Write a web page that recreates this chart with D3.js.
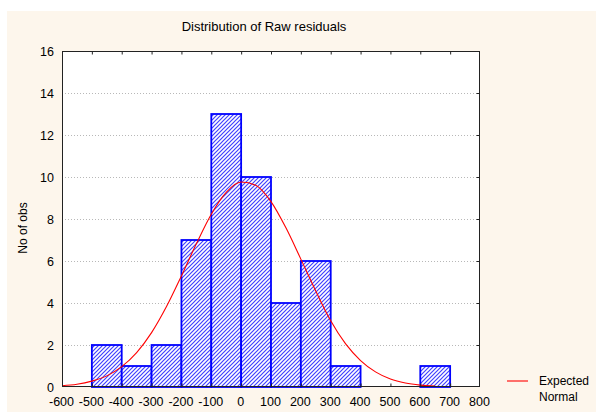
<!DOCTYPE html>
<html>
<head>
<meta charset="utf-8">
<script src="https://cdn.jsdelivr.net/npm/d3@7"></script>
<style>
  html, body { margin: 0; padding: 0; background: #fff; }
  svg { display: block; font-family: "Liberation Sans", Arial, sans-serif; }
</style>
</head>
<body>
<script>
  // bins are 100 wide, labelled by their left edge
  var binStarts = [-600, -500, -400, -300, -200, -100, 0, 100, 200, 300, 400, 500, 600];
  var counts    = [0, 2, 1, 2, 7, 13, 10, 4, 6, 1, 0, 0, 1];

  // expected normal
  var normalX = [-600, -550, -500, -450, -400, -350, -300, -250, -200, -150, -100, -50,
                 0, 50, 100, 150, 200, 250, 300, 350, 400, 450, 500, 550, 600, 650];
  var normalY = [0.06, 0.13, 0.28, 0.53, 0.97, 1.64, 2.59, 3.83, 5.29, 6.82, 8.23, 9.27,
                 9.76, 9.60, 8.83, 7.58, 6.09, 4.57, 3.15, 2.05, 1.26, 0.72, 0.38, 0.19, 0.09, 0.04];

  var xTicks = [-600, -500, -400, -300, -200, -100, 0, 100, 200, 300, 400, 500, 600, 700, 800];
  var yTicks = [0, 2, 4, 6, 8, 10, 12, 14, 16];

  var w = 596;
  var h = 413;
  var plot = { left: 62, top: 51, right: 480, bottom: 387 };

  var svg = d3.select('body')
    .append('svg')
    .attr('width', w)
    .attr('height', h);

  // cream page, with the thin white strip top and left
  svg.append('rect')
    .attr('x', 7).attr('y', 11)
    .attr('width', w - 7).attr('height', h - 12)
    .attr('fill', '#fdf6ec');

  var defs = svg.append('defs');
  var hatch = defs.append('pattern')
    .attr('id', 'hatch')
    .attr('patternUnits', 'userSpaceOnUse')
    .attr('width', 4).attr('height', 4);
  hatch.append('rect').attr('width', 4).attr('height', 4).attr('fill', '#fff');
  hatch.append('path')
    .attr('d', 'M-1,1 l2,-2 M0,4 l4,-4 M3,5 l2,-2')
    .attr('stroke', '#4040ff')
    .attr('stroke-width', 1.2);

  var x = d3.scaleLinear()
    .domain([-600, 800])
    .range([plot.left, plot.right]);

  var y = d3.scaleLinear()
    .domain([0, 16])
    .range([plot.bottom, plot.top]);

  svg.append('rect')
    .attr('x', plot.left).attr('y', plot.top)
    .attr('width', plot.right - plot.left)
    .attr('height', plot.bottom - plot.top)
    .attr('fill', '#fff');

  // dotted grid
  svg.append('g')
    .selectAll('line')
    .data(yTicks.filter(function(d) { return d > 0 && d < 16; }))
    .enter()
    .append('line')
    .attr('x1', plot.left).attr('x2', plot.right)
    .attr('y1', function(d) { return y(d) + 0.5; })
    .attr('y2', function(d) { return y(d) + 0.5; })
    .attr('stroke', '#b8b8b8')
    .attr('stroke-dasharray', '1,2');

  // bars
  svg.append('g')
    .selectAll('rect')
    .data(binStarts)
    .enter()
    .append('rect')
    .attr('x', function(d) { return x(d); })
    .attr('y', function(d, i) { return y(counts[i]); })
    .attr('width', function(d) { return x(d + 100) - x(d); })
    .attr('height', function(d, i) { return y(0) - y(counts[i]); })
    .attr('fill', 'url(#hatch)')
    .attr('stroke', '#0000ff')
    .attr('stroke-width', 1.8);

  // expected normal curve
  var line = d3.line()
    .x(function(d) { return x(d); })
    .y(function(d, i) { return y(normalY[i]); })
    .curve(d3.curveMonotoneX);

  svg.append('path')
    .datum(normalX)
    .attr('d', line)
    .attr('fill', 'none')
    .attr('stroke', '#ff0000')
    .attr('stroke-width', 1.1);

  // frame with inward ticks on every side
  svg.append('rect')
    .attr('x', plot.left + 0.5).attr('y', plot.top + 0.5)
    .attr('width', plot.right - plot.left - 1)
    .attr('height', plot.bottom - plot.top - 1)
    .attr('fill', 'none')
    .attr('stroke', '#222');

  var tickLen = 3;
  var innerX = xTicks.filter(function(d) { return d > -600 && d < 800; });
  var innerY = yTicks.filter(function(d) { return d > 0 && d < 16; });

  svg.append('g')
    .attr('transform', 'translate(0,' + (plot.top + 0.5) + ')')
    .call(d3.axisTop(x).tickValues(innerX).tickSize(-tickLen).tickFormat(''))
    .call(function(g) { g.select('.domain').remove(); })
    .selectAll('line').attr('stroke', '#222');

  svg.append('g')
    .attr('transform', 'translate(0,' + (plot.bottom - 0.5) + ')')
    .call(d3.axisBottom(x).tickValues(innerX).tickSize(-tickLen).tickFormat(''))
    .call(function(g) { g.select('.domain').remove(); })
    .selectAll('line').attr('stroke', '#222');

  svg.append('g')
    .attr('transform', 'translate(' + (plot.right - 0.5) + ',0)')
    .call(d3.axisRight(y).tickValues(innerY).tickSize(-tickLen).tickFormat(''))
    .call(function(g) { g.select('.domain').remove(); })
    .selectAll('line').attr('stroke', '#222');

  // tick labels
  svg.append('g')
    .selectAll('text')
    .data(xTicks)
    .enter()
    .append('text')
    .attr('x', function(d) { return x(d) - 0.5; })
    .attr('y', 406)
    .attr('text-anchor', 'middle')
    .attr('font-size', '12.5px')
    .attr('fill', '#000')
    .text(function(d) { return d; });

  svg.append('g')
    .selectAll('text')
    .data(yTicks)
    .enter()
    .append('text')
    .attr('x', 54)
    .attr('y', function(d) { return y(d) + 4.5; })
    .attr('text-anchor', 'end')
    .attr('font-size', '12.5px')
    .attr('fill', '#000')
    .text(function(d) { return d; });

  svg.append('text')
    .attr('x', 264)
    .attr('y', 31)
    .attr('text-anchor', 'middle')
    .attr('font-size', '13px')
    .text('Distribution of Raw residuals');

  svg.append('text')
    .attr('transform', 'translate(27,228) rotate(-90)')
    .attr('text-anchor', 'middle')
    .attr('font-size', '12px')
    .text('No of obs');

  // legend
  svg.append('line')
    .attr('x1', 507).attr('x2', 528)
    .attr('y1', 381).attr('y2', 381)
    .attr('stroke', '#ff0000')
    .attr('stroke-width', 1.1);

  svg.append('text')
    .attr('x', 539).attr('y', 385)
    .attr('font-size', '12px')
    .text('Expected');

  svg.append('text')
    .attr('x', 539).attr('y', 401)
    .attr('font-size', '12px')
    .text('Normal');
</script>
</body>
</html>
